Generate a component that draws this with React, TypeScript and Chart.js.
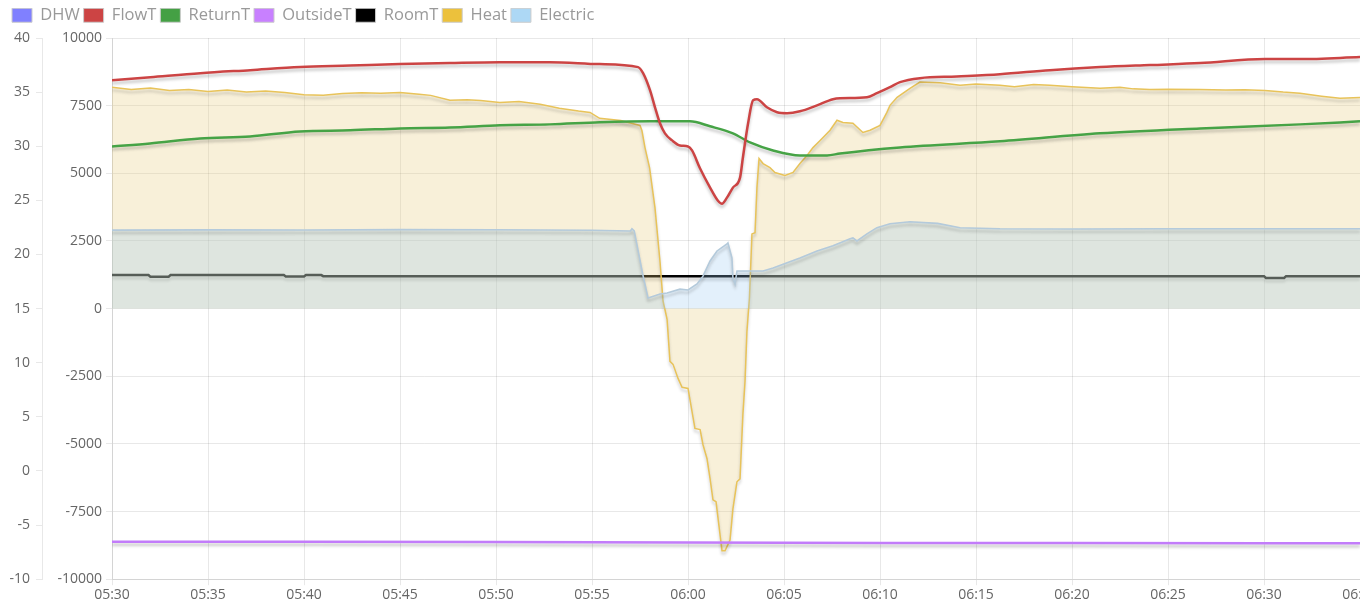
import React, { useEffect, useRef } from "react";
import { Chart, registerables } from "chart.js";

Chart.register(...registerables);

const FONT = "'Open Sans', sans-serif";

// x values are minutes after 05:30
const START_MINUTES = 5 * 60 + 30;
const X_MIN = 0;
const X_MAX = 65;
const X_STEP = 5;

const seriesNames = ["DHW", "FlowT", "ReturnT", "OutsideT", "RoomT", "Heat", "Electric"];
const legendColors = ["#8080ff", "#cc4444", "#44a044", "#c880ff", "#000000", "#ecc13c", "#add8f5"];

const dhw: [number, number][] = [];

const flowT: [number, number][] = [
  [0, 36.1], [2, 36.38], [4.6, 36.75], [7.2, 37.03], [9.8, 37.31], [12.4, 37.45], [15, 37.6],
  [17.6, 37.7], [20.2, 37.77], [22.8, 37.77], [25.4, 37.59], [27.4, 37.31], [27.66, 36.75],
  [28.02, 35.18], [28.28, 33.6], [28.54, 32.12], [28.8, 31.19], [29.17, 30.54], [29.58, 30.07],
  [30.0, 29.98], [30.21, 29.61], [30.63, 27.94], [31.15, 26.18], [31.56, 24.97], [31.77, 24.69],
  [32.03, 25.25], [32.34, 26.18], [32.71, 27.1], [32.86, 28.96], [33.13, 32.12], [33.39, 34.25],
  [33.59, 34.34], [34.11, 33.6], [34.64, 33.14], [35.16, 33.05], [35.83, 33.23], [36.72, 33.78],
  [37.55, 34.34], [37.92, 34.43], [39.32, 34.53], [39.84, 34.9], [40.52, 35.45], [41.04, 35.92],
  [42.08, 36.29], [44, 36.45], [46.25, 36.66], [48.85, 37.03], [51.46, 37.31], [54.06, 37.5],
  [56.67, 37.68], [60.05, 38.05], [61.88, 38.05], [65, 38.24],
];

const returnT: [number, number][] = [
  [0, 29.98], [1.98, 30.26], [4.58, 30.72], [7.19, 30.91], [9.79, 31.37], [12.4, 31.47],
  [15, 31.65], [17.6, 31.74], [20.21, 31.93], [22.8, 32.02], [25.42, 32.21], [28.02, 32.3],
  [30.1, 32.3], [31.15, 31.84], [32.34, 31.19], [33.23, 30.35], [34.43, 29.61], [35.83, 29.15],
  [37.24, 29.15], [37.92, 29.33], [41.04, 29.89], [46.25, 30.45], [51.46, 31.19], [56.67, 31.65],
  [61.88, 32.02], [65, 32.3],
];

const outsideT: [number, number][] = [
  [0, -6.55], [10, -6.55], [20, -6.57], [30, -6.6], [40, -6.65], [50, -6.66], [60, -6.68], [65, -6.68],
];

const roomT: [number, number][] = [
  [0, 18.1], [1.9, 18.1], [2.0, 17.95], [2.95, 17.95], [3.05, 18.1], [8.95, 18.1], [9.05, 17.97],
  [10.0, 17.97], [10.1, 18.1], [10.9, 18.1], [11.0, 18.0], [60.0, 18.0], [60.1, 17.83],
  [61.05, 17.83], [61.15, 18.0], [65, 18.0],
];

const heat: [number, number][] = [
  [0, 8180], [1, 8100], [2, 8150], [3, 8060], [4, 8100], [5, 8020], [6, 8080], [7, 8000],
  [8, 8040], [9, 7990], [10, 7900], [11, 7880], [12, 7950], [13, 7980], [14, 7960], [15, 7990],
  [16, 7920], [16.6, 7880], [17.6, 7700], [18.5, 7720], [19.2, 7690], [20.2, 7620], [21.2, 7650],
  [22.3, 7550], [23.3, 7400], [24.3, 7300], [24.9, 7250], [25.4, 7030], [26.5, 6950], [27.5, 6770],
  [27.6, 6580], [27.76, 5950], [28.0, 5200], [28.28, 3730], [28.54, 1760], [28.7, 280], [28.91, -400],
  [29.06, -1950], [29.22, -2060], [29.48, -2580], [29.69, -2910], [30.0, -2950], [30.36, -4430],
  [30.63, -4470], [30.78, -5030], [30.99, -5550], [31.15, -6290], [31.3, -7070], [31.46, -7140],
  [31.77, -8950], [31.93, -8950], [32.19, -8550], [32.34, -7400], [32.55, -6400], [32.71, -6290],
  [32.86, -3910], [32.97, -2690], [33.07, -840], [33.2, 400], [33.33, 2760], [33.49, 2800],
  [33.59, 4470], [33.7, 5550], [33.91, 5360], [34.27, 5210], [34.53, 5030], [35.05, 4920],
  [35.47, 5030], [35.83, 5360], [36.2, 5660], [36.51, 5950], [36.88, 6210], [37.4, 6590],
  [37.76, 6960], [38.07, 6880], [38.59, 6850], [39.11, 6510], [39.48, 6590], [40.0, 6770],
  [40.36, 7250], [40.52, 7510], [40.89, 7810], [41.56, 8140], [42.08, 8370], [43.13, 8350],
  [44.17, 8250], [45, 8300], [46.25, 8250], [47, 8200], [48, 8280], [48.85, 8250], [50, 8200],
  [51.46, 8140], [52.5, 8180], [53.2, 8120], [54.06, 8100], [55, 8110], [56.67, 8100], [58, 8080],
  [59, 8090], [60.05, 8060], [61, 8000], [61.88, 7960], [63, 7850], [63.96, 7770], [64.64, 7790],
  [65, 7800],
];

const electric: [number, number][] = [
  [0, 2900], [5, 2910], [10, 2905], [15, 2920], [20, 2915], [25, 2895], [27.0, 2870], [27.08, 2950],
  [27.2, 2870], [27.64, 1280], [27.92, 390], [28.54, 540], [28.91, 575], [29.58, 720], [30, 690],
  [30.47, 910], [30.78, 1200], [31.15, 1760], [31.51, 2130], [32.03, 2390], [32.08, 2430],
  [32.29, 1870], [32.34, 1130], [32.45, 910], [32.55, 1390], [33.91, 1390], [34.43, 1500],
  [35.16, 1690], [35.83, 1870], [36.72, 2130], [37.55, 2320], [38.44, 2580], [38.59, 2610],
  [38.8, 2500], [39.32, 2760], [39.84, 2990], [40.52, 3135], [41.56, 3210], [43, 3150],
  [44.17, 2990], [46.25, 2950], [50, 2940], [55, 2950], [60, 2950], [65, 2950],
];

const tempTicks = { min: -10, max: 40, step: 5 };
const powerTicks = { min: -10000, max: 10000, step: 2500 };

const toPoints = (pairs: [number, number][]) => pairs.map(([x, y]) => ({ x, y }));

const fmtTime = (v: number) => {
  const t = START_MINUTES + Math.round(v);
  const h = Math.floor(t / 60) % 24;
  const m = t % 60;
  return `${String(h).padStart(2, "0")}:${String(m).padStart(2, "0")}`;
};

const shadowPlugin = {
  id: "lineShadow",
  beforeDatasetDraw(chart: any) {
    const ctx = chart.ctx;
    ctx.save();
    ctx.shadowColor = "rgba(0,0,0,0.22)";
    ctx.shadowBlur = 3;
    ctx.shadowOffsetX = 0;
    ctx.shadowOffsetY = 3;
  },
  afterDatasetDraw(chart: any) {
    chart.ctx.restore();
  },
};

export default function App() {
  const ref = useRef<HTMLCanvasElement>(null);

  useEffect(() => {
    if (!ref.current) return;
    const tickFont = { family: FONT, size: 14 };
    const chart = new Chart(ref.current, {
      type: "line",
      data: {
        datasets: [
          { label: seriesNames[0], data: toPoints(dhw), borderColor: legendColors[0], yAxisID: "yT", order: 0 },
          { label: seriesNames[1], data: toPoints(flowT), borderColor: "#cc4444", borderWidth: 2.5, yAxisID: "yT", order: 1, fill: false, cubicInterpolationMode: "monotone" },
          { label: seriesNames[2], data: toPoints(returnT), borderColor: "#46a346", borderWidth: 2.5, yAxisID: "yT", order: 2, fill: false, cubicInterpolationMode: "monotone" },
          { label: seriesNames[3], data: toPoints(outsideT), borderColor: "#c27cfa", borderWidth: 2.5, yAxisID: "yT", order: 3, fill: false },
          { label: seriesNames[4], data: toPoints(roomT), borderColor: "#000000", borderWidth: 2.5, yAxisID: "yT", order: 10, fill: false },
          { label: seriesNames[5], data: toPoints(heat), borderColor: "#e8c35a", borderWidth: 1.5, yAxisID: "yP", order: 9, fill: "origin", backgroundColor: "rgba(228,200,115,0.27)" },
          { label: seriesNames[6], data: toPoints(electric), borderColor: "#b4cadb", borderWidth: 1.6, yAxisID: "yP", order: 8, fill: "origin", backgroundColor: "rgba(150,200,240,0.27)" },
        ],
      },
      options: {
        animation: false,
        responsive: true,
        maintainAspectRatio: false,
        layout: { padding: { top: -5, left: 0, right: 0, bottom: 0 } },
        elements: { point: { radius: 0 }, line: { tension: 0 } },
        plugins: {
          tooltip: { enabled: false },
          subtitle: { display: true, text: "", position: "top", weight: 500, padding: 0, font: { size: 4.5, lineHeight: 1 } } as any,
          legend: {
            display: true,
            position: "top",
            align: "start",
            labels: {
              boxWidth: 20,
              boxHeight: 14,
              padding: 4,
              color: "#999999",
              font: { family: FONT, size: 16.5 },
              generateLabels: (c: any) =>
                c.data.datasets.map((ds: any, i: number) => ({
                  text: ds.label,
                  fillStyle: legendColors[i],
                  strokeStyle: "#cccccc",
                  lineWidth: 1,
                  hidden: false,
                  datasetIndex: i,
                  fontColor: "#999999",
                })),
            },
          },
        },
        scales: {
          x: {
            type: "linear",
            min: X_MIN,
            max: X_MAX,
            ticks: { stepSize: X_STEP, callback: (v: any) => fmtTime(Number(v)), color: "#666", font: tickFont, maxRotation: 0, autoSkip: false, padding: 1 },
            grid: { color: "rgba(0,0,0,0.09)", tickLength: 6 },
            border: { color: "rgba(0,0,0,0.09)" },
            afterFit: (s: any) => { s.paddingLeft = 0; s.paddingRight = 0; },
          },
          yT: {
            type: "linear",
            position: "left",
            weight: 1,
            min: tempTicks.min,
            max: tempTicks.max,
            ticks: { stepSize: tempTicks.step, color: "#666", font: tickFont, padding: 6, callback: (v: any) => String(v) },
            grid: { drawOnChartArea: false, color: "rgba(0,0,0,0.09)", tickLength: 6 },
            border: { color: "rgba(0,0,0,0.09)" },
            afterFit: (s: any) => { s.width = 34; },
          },
          yP: {
            type: "linear",
            position: "left",
            weight: 0,
            min: powerTicks.min,
            max: powerTicks.max,
            ticks: { stepSize: powerTicks.step, color: "#666", font: tickFont, padding: 4, callback: (v: any) => String(v) },
            grid: { color: "rgba(0,0,0,0.09)", tickLength: 6 },
            border: { color: "rgba(0,0,0,0.09)" },
            afterFit: (s: any) => { s.width = 70; },
          },
        },
      } as any,
      plugins: [shadowPlugin],
    });
    return () => chart.destroy();
  }, []);

  return (
    <div style={{ width: "100%", height: 596, position: "relative" }}>
      <style>{`html,body{overflow:hidden}`}</style>
      <canvas ref={ref} />
    </div>
  );
}
